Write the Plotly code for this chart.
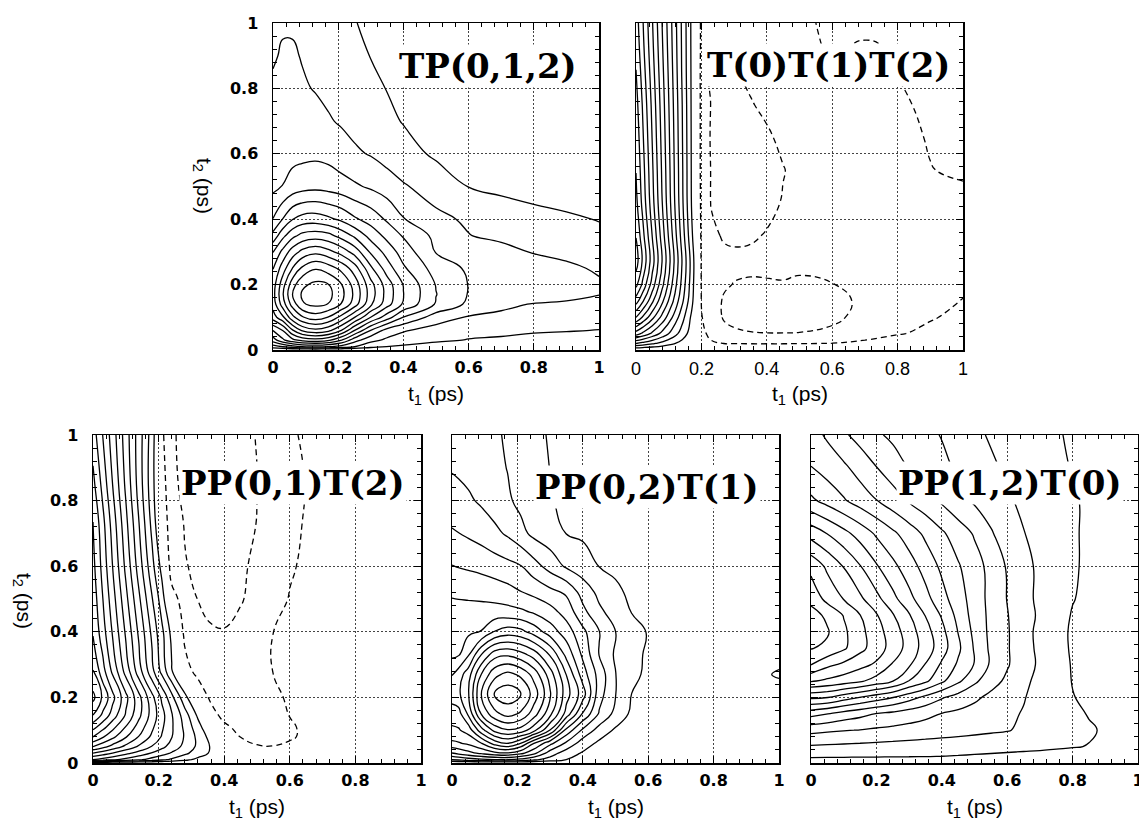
import plotly.graph_objects as go

W, H = 1139, 823

# ---------------- Panel 1 : TP(0,1,2) ----------------
P1_T1 = [0, .03, .06, .09, .13, .17, .21, .25, .3, .35, .4, .5, .6, .7, .8, .9, 1.0]
P1_T2 = [0, .01, .03, .06, .1, .14, .17, .2, .25, .3, .35, .4, .5, .6, .7, .8, .9, 1.0]
P1_Z = [
    [0] * 17,
    [1.5, 2.0, 2.6, 3.02, 3.2, 2.98, 2.6, 2.03, 1.3, 0.98, 0.85, 0.5, 0.35, 0.3, 0.25, 0.2, 0.2],
    [3.5, 4.8, 5.7, 6.3, 6.6, 6.2, 5.03, 3.4, 2.3, 1.8, 1.5, 1.2, 0.95, 0.85, 0.75, 0.65, 0.55],
    [5.03, 6.03, 7.9, 9.2, 9.75, 9.3, 7.97, 6.03, 3.97, 2.6, 2.1, 1.6, 1.33, 1.25, 1.1, 1.05, 0.98],
    [7.5, 8.8, 10.7, 11.9, 12.5, 11.95, 10.65, 9.03, 6.97, 5.45, 3.97, 2.5, 1.9, 1.8, 1.6, 1.5, 1.36],
    [8.4, 10.5, 12.45, 13.9, 14.25, 13.97, 12.95, 11.5, 9.2, 7.4, 5.85, 3.9, 2.8, 2.2, 1.95, 1.85, 1.73],
    [8.6, 10.9, 13.05, 14.15, 14.6, 14.3, 13.3, 11.8, 9.5, 7.6, 6.03, 4.03, 2.95, 2.7, 2.5, 2.3, 2.02],
    [8.5, 10.6, 12.6, 13.8, 14.25, 14.03, 13.05, 11.6, 9.35, 7.5, 5.95, 3.95, 2.97, 2.75, 2.55, 2.35, 2.1],
    [7.97, 9.5, 11.03, 12.2, 12.9, 12.5, 11.7, 10.5, 8.2, 6.5, 5.15, 3.55, 2.85, 2.5, 2.3, 2.15, 1.9],
    [6.97, 8.3, 9.5, 10.3, 10.75, 10.3, 9.6, 8.6, 6.85, 5.6, 4.55, 2.95, 2.7, 2.35, 1.95, 1.8, 1.65],
    [5.3, 6.7, 7.7, 8.3, 8.5, 8.3, 7.6, 6.8, 5.6, 4.7, 3.9, 2.75, 2.03, 1.75, 1.55, 1.35, 1.15],
    [4.03, 5.03, 5.97, 6.4, 6.5, 6.2, 5.8, 5.15, 4.6, 3.85, 3.05, 2.24, 1.85, 1.5, 1.25, 1.1, 0.97],
    [2.75, 3.03, 3.4, 3.6, 3.7, 3.6, 3.4, 3.15, 2.85, 2.5, 2.1, 1.55, 0.98, 0.8, 0.7, 0.65, 0.6],
    [2.5, 2.6, 2.7, 2.75, 2.8, 2.7, 2.4, 2.15, 1.93, 1.6, 1.35, 0.85, 0.7, 0.6, 0.55, 0.5, 0.5],
    [2.35, 2.45, 2.45, 2.4, 2.3, 2.08, 1.9, 1.7, 1.5, 1.2, 0.95, 0.7, 0.55, 0.5, 0.45, 0.42, 0.4],
    [2.15, 2.2, 2.2, 2.1, 1.95, 1.8, 1.65, 1.5, 1.25, 0.97, 0.8, 0.6, 0.5, 0.45, 0.4, 0.38, 0.35],
    [1.9, 2.1, 2.1, 1.95, 1.8, 1.6, 1.45, 1.3, 0.97, 0.8, 0.7, 0.55, 0.45, 0.4, 0.35, 0.33, 0.3],
    [1.7, 1.9, 1.9, 1.8, 1.6, 1.4, 1.2, 1.03, 0.85, 0.75, 0.65, 0.5, 0.4, 0.35, 0.32, 0.3, 0.28],
]

# ---------------- Panel 2 : T(0)T(1)T(2) ----------------
P2_T1 = [0, .02, .05, .08, .11, .14, .17, .2, .23, .27, .3, .35, .4, .45, .5, .6, .7, .8, .9, 1.0]
P2_T2 = [0, .02, .05, .1, .15, .2, .27, .35, .45, .55, .65, .75, .85, .93, 1.0]
P2_Z = [
    [0] * 20,
    [3.03, 2.67, 2.17, 1.67, 1.17, 0.67, 0.17, -0.5, -0.9, -1.01, -1.02, -1.05, -1.05, -1.05, -1.03, -0.98, -0.8, -0.6, -0.5, -0.4],
    [6.5, 5.8, 4.75, 3.69, 2.63, 1.58, 0.53, -0.8, -1.2, -1.7, -1.85, -1.95, -1.98, -1.98, -1.97, -1.8, -1.4, -1.05, -0.85, -0.7],
    [10.02, 8.92, 7.3, 5.68, 4.05, 2.43, 0.81, -0.95, -1.5, -2.1, -2.25, -2.35, -2.4, -2.4, -2.35, -2.2, -1.7, -1.3, -1.05, -0.85],
    [12.5, 11.19, 9.21, 7.24, 5.26, 3.29, 1.31, -1.03, -1.6, -2.1, -2.3, -2.4, -2.45, -2.45, -2.45, -2.3, -1.8, -1.4, -1.2, -0.98],
    [14.3, 12.8, 10.54, 8.28, 6.02, 3.76, 1.5, -1.05, -1.5, -1.9, -2.03, -2.1, -2.08, -2.05, -2.1, -2.02, -1.75, -1.55, -1.35, -1.1],
    [15.5, 13.87, 11.42, 8.97, 6.53, 4.08, 1.63, -1.1, -1.6, -1.75, -1.8, -1.8, -1.8, -1.8, -1.85, -1.8, -1.7, -1.6, -1.5, -1.45],
    [14.95, 13.38, 10.95, 8.52, 6.08, 3.65, 1.22, -1.15, -1.8, -2.1, -2.15, -2.1, -1.95, -1.8, -1.7, -1.6, -1.55, -1.5, -1.4, -1.35],
    [14.3, 12.73, 10.37, 8.02, 5.66, 3.3, 0.94, -1.2, -2.05, -2.35, -2.45, -2.4, -2.2, -1.95, -1.75, -1.6, -1.55, -1.45, -1.3, -1.2],
    [13.97, 12.46, 10.15, 7.84, 5.54, 3.23, 0.92, -1.25, -2.05, -2.4, -2.5, -2.5, -2.35, -2.03, -1.8, -1.6, -1.5, -1.4, -1.02, -0.9],
    [13.7, 12.19, 9.93, 7.67, 5.43, 3.16, 0.9, -1.25, -2.1, -2.35, -2.45, -2.4, -2.1, -1.85, -1.7, -1.5, -1.35, -1.2, -0.95, -0.85],
    [13.4, 11.93, 9.72, 7.5, 5.31, 3.1, 0.88, -1.25, -2.05, -2.25, -2.3, -2.05, -1.85, -1.7, -1.55, -1.3, -1.25, -1.08, -0.9, -0.8],
    [13.03, 11.57, 9.43, 7.28, 5.15, 2.97, 0.86, -1.25, -2.03, -2.06, -2.02, -1.85, -1.7, -1.55, -1.3, -0.97, -1.1, -0.98, -0.85, -0.75],
    [12.7, 11.3, 9.21, 7.11, 5.03, 2.93, 0.84, -1.2, -1.7, -1.75, -1.7, -1.6, -1.5, -1.35, -1.15, -0.93, -1.05, -0.95, -0.8, -0.7],
    [12.5, 11.13, 9.06, 6.98, 4.95, 2.89, 0.83, -1.2, -1.5, -1.5, -1.45, -1.4, -1.3, -1.2, -1.1, -0.9, -0.85, -0.8, -0.7, -0.6],
]

# ---------------- Panel 3 : PP(0,1)T(2) ----------------
P3_T1 = [0, .03, .06, .1, .14, .18, .21, .24, .28, .32, .36, .4, .45, .5, .55, .6, .65, .7, .8, .9, 1.0]
P3_T2 = [0, .01, .03, .05, .08, .11, .145, .2, .28, .39, .5, .6, .73, .85, 1.0]
P3_Z = [
    [0] * 21,
    [4.97, 4.6, 4.2, 3.67, 3.13, 2.6, 2.2, 1.8, 1.27, 0.73, 0.2, -0.1, -0.2, -0.3, -0.3, -0.25, -0.2, -0.2, -0.15, -0.15, -0.1],
    [6.97, 6.49, 5.98, 5.29, 4.61, 3.93, 3.41, 2.9, 2.22, 1.54, 0.85, 0.17, -0.3, -0.55, -0.6, -0.55, -0.48, -0.42, -0.36, -0.32, -0.3],
    [9.03, 8.33, 7.65, 6.75, 5.85, 4.95, 4.28, 3.6, 2.7, 1.8, 0.9, 0.02, -0.6, -0.93, -0.97, -0.85, -0.7, -0.6, -0.5, -0.43, -0.4],
    [11.03, 10.13, 9.26, 8.1, 6.95, 5.79, 4.92, 4.05, 2.89, 1.74, 0.58, -0.4, -1.02, -1.3, -1.35, -1.1, -0.85, -0.7, -0.57, -0.48, -0.43],
    [12.4, 11.37, 10.33, 8.96, 7.58, 6.2, 5.17, 4.13, 2.76, 1.38, 0.02, -0.8, -1.3, -1.5, -1.45, -1.1, -0.85, -0.7, -0.57, -0.48, -0.43],
    [13.97, 12.76, 11.53, 9.88, 8.24, 6.59, 5.35, 4.12, 2.47, 0.82, -0.6, -1.3, -1.5, -1.5, -1.3, -0.98, -0.8, -0.68, -0.56, -0.48, -0.43],
    [15.3, 13.8, 12.3, 10.3, 8.3, 6.3, 4.8, 3.3, 1.3, -0.3, -1.2, -1.45, -1.5, -1.4, -1.15, -0.9, -0.75, -0.65, -0.55, -0.48, -0.43],
    [14.03, 12.38, 10.77, 8.62, 6.46, 4.31, 2.69, 1.08, -0.6, -1.3, -1.6, -1.7, -1.6, -1.35, -0.98, -0.8, -0.7, -0.62, -0.55, -0.48, -0.43],
    [12.97, 11.47, 9.94, 7.9, 5.86, 3.82, 2.29, 0.76, -1.2, -1.7, -1.93, -1.95, -1.8, -1.45, -0.98, -0.8, -0.7, -0.62, -0.55, -0.48, -0.43],
    [12.6, 11.01, 9.42, 7.3, 5.19, 3.07, 1.48, -0.6, -1.45, -2.02, -2.15, -2.2, -2.05, -1.8, -1.35, -0.95, -0.78, -0.68, -0.58, -0.5, -0.45],
    [12.3, 10.64, 8.98, 6.76, 4.54, 2.33, 0.66, -1.5, -1.95, -2.15, -2.25, -2.25, -2.12, -1.85, -1.45, -1.1, -0.85, -0.72, -0.6, -0.5, -0.45],
    [12.03, 10.3, 8.57, 6.29, 4.03, 1.71, -0.3, -1.55, -2.05, -2.3, -2.4, -2.4, -2.3, -1.98, -1.7, -1.3, -0.9, -0.75, -0.6, -0.5, -0.45],
    [11.3, 9.65, 7.98, 5.8, 3.58, 1.38, -0.5, -1.8, -2.2, -2.35, -2.4, -2.4, -2.3, -2.02, -1.7, -1.3, -0.97, -0.75, -0.6, -0.5, -0.45],
    [10.5, 8.97, 7.5, 5.5, 3.5, 1.5, -0.8, -1.9, -2.2, -2.3, -2.35, -2.3, -2.2, -1.97, -1.6, -1.15, -0.85, -0.7, -0.55, -0.45, -0.4],
]

# ---------------- Panel 4 : PP(0,2)T(1) ----------------
P4_T1 = [0, .02, .05, .09, .13, .17, .21, .25, .3, .35, .4, .45, .5, .55, .6, .7, .8, .9, 1.0]
P4_T2 = [0, .01, .03, .06, .1, .15, .21, .27, .33, .4, .46, .52, .6, .7, .8, .9, 1.0]
P4_Z = [
    [0] * 19,
    [2.03, 2.2, 2.5, 2.8, 2.97, 3.03, 2.7, 2.2, 1.6, 0.98, 0.6, 0.3, 0.2, 0.2, 0.15, 0.15, 0.1, 0.1, 0.1],
    [3.97, 4.3, 4.7, 5.2, 5.7, 5.9, 5.3, 4.3, 2.5, 1.5, 0.9, 0.6, 0.5, 0.4, 0.35, 0.3, 0.3, 0.3, 0.3],
    [5.8, 5.9, 6.2, 6.97, 8.4, 9.03, 7.97, 6.03, 4.3, 2.8, 1.5, 0.8, 0.6, 0.5, 0.45, 0.4, 0.35, 0.35, 0.35],
    [6.8, 6.9, 7.4, 9.6, 11.3, 11.9, 11.6, 10.4, 7.97, 4.7, 2.8, 1.6, 0.85, 0.6, 0.5, 0.45, 0.4, 0.4, 0.4],
    [7.5, 7.6, 9.2, 12.1, 13.7, 14.4, 13.85, 12.5, 10.3, 7.6, 4.9, 2.9, 1.7, 0.8, 0.6, 0.5, 0.45, 0.45, 0.5],
    [8.5, 8.8, 9.9, 13.1, 15.05, 15.6, 15.1, 13.6, 11.15, 8.4, 6.5, 3.4, 2.03, 0.98, 0.75, 0.55, 0.45, 0.45, 0.6],
    [7.97, 8.5, 9.55, 12.05, 13.7, 14.3, 13.8, 12.65, 10.5, 7.97, 5.5, 3.6, 2.03, 1.25, 0.8, 0.6, 0.5, 0.65, 1.1],
    [6.8, 6.9, 7.9, 10.03, 11.6, 11.85, 11.4, 10.6, 8.9, 6.7, 4.8, 2.97, 1.85, 1.3, 0.85, 0.6, 0.5, 0.55, 0.7],
    [6.6, 6.65, 6.8, 7.05, 8.05, 8.5, 8.3, 7.6, 6.5, 5.5, 4.25, 3.03, 2.03, 1.3, 0.95, 0.7, 0.6, 0.55, 0.5],
    [6.25, 6.28, 6.3, 6.35, 6.4, 6.35, 6.2, 5.9, 5.4, 4.6, 3.3, 2.2, 1.6, 0.97, 0.8, 0.65, 0.55, 0.5, 0.45],
    [5.9, 5.85, 5.8, 5.7, 5.55, 5.35, 5.05, 4.75, 4.3, 3.85, 2.6, 1.75, 1.15, 0.85, 0.7, 0.6, 0.5, 0.45, 0.4],
    [5.03, 4.95, 4.85, 4.7, 4.5, 4.3, 4.05, 3.4, 2.6, 1.85, 1.45, 0.98, 0.85, 0.75, 0.65, 0.55, 0.5, 0.45, 0.4],
    [4.1, 4.02, 3.85, 3.6, 3.25, 2.85, 2.3, 1.75, 1.4, 0.98, 0.85, 0.75, 0.7, 0.65, 0.6, 0.5, 0.45, 0.42, 0.4],
    [3.5, 3.3, 3.15, 2.85, 2.5, 2.15, 1.75, 1.45, 1.05, 0.85, 0.75, 0.7, 0.65, 0.6, 0.55, 0.5, 0.45, 0.4, 0.38],
    [2.9, 2.85, 2.7, 2.5, 2.25, 1.97, 1.7, 1.4, 0.98, 0.85, 0.75, 0.7, 0.65, 0.6, 0.55, 0.5, 0.45, 0.4, 0.38],
    [2.6, 2.55, 2.45, 2.3, 2.12, 1.9, 1.65, 1.3, 0.9, 0.8, 0.72, 0.68, 0.63, 0.58, 0.54, 0.5, 0.45, 0.4, 0.38],
]

# ---------------- Panel 5 : PP(1,2)T(0) ----------------
P5_T1 = [0, .05, .1, .15, .2, .25, .3, .35, .4, .45, .5, .55, .6, .65, .7, .75, .8, .85, .9, 1.0]
P5_T2 = [0, .02, .05, .1, .15, .2, .25, .3, .35, .4, .45, .5, .6, .7, .8, .9, 1.0]
P5_Z = [
    [0] * 20,
    [1.2, 1.18, 1.15, 1.12, 1.1, 1.07, 1.05, 1.02, 0.99, 0.95, 0.9, 0.85, 0.8, 0.75, 0.7, 0.65, 0.6, 0.55, 0.5, 0.4],
    [1.9, 1.85, 1.8, 1.75, 1.7, 1.65, 1.6, 1.55, 1.5, 1.45, 1.4, 1.35, 1.3, 1.25, 1.2, 1.12, 1.05, 0.97, 0.8, 0.6],
    [3.3, 3.15, 3.05, 2.97, 2.85, 2.75, 2.65, 2.55, 2.45, 2.35, 2.25, 2.15, 2.05, 1.85, 1.7, 1.5, 1.3, 1.1, 0.9, 0.75],
    [5.35, 5.03, 4.6, 4.3, 3.97, 3.75, 3.5, 3.25, 2.97, 2.8, 2.6, 2.4, 2.15, 1.95, 1.7, 1.45, 1.2, 0.95, 0.8, 0.7],
    [8.2, 8.03, 7.5, 6.97, 6.5, 6.03, 5.4, 4.75, 4.1, 3.6, 3.2, 2.75, 2.4, 2.05, 1.7, 1.35, 1.03, 0.85, 0.75, 0.65],
    [11.1, 10.8, 10.5, 10.15, 9.6, 9.03, 7.97, 7.2, 6.2, 5.2, 4.2, 3.4, 2.8, 2.2, 1.75, 1.35, 0.97, 0.8, 0.7, 0.6],
    [13.03, 12.25, 11.8, 11.3, 10.85, 9.9, 9.15, 7.95, 6.85, 5.85, 4.95, 3.85, 3.1, 2.4, 1.85, 1.3, 0.95, 0.8, 0.7, 0.6],
    [14.05, 13.8, 13.15, 12.3, 11.5, 10.6, 9.6, 8.55, 7.45, 6.2, 4.9, 3.8, 3.1, 2.35, 1.8, 1.3, 0.9, 0.75, 0.65, 0.55],
    [14.6, 14.1, 13.2, 12.3, 11.4, 10.5, 9.5, 8.4, 7.3, 5.97, 4.75, 3.75, 3.1, 2.35, 1.75, 1.25, 0.9, 0.75, 0.65, 0.55],
    [14.4, 13.8, 12.95, 12.03, 11.1, 10.1, 9.1, 7.97, 6.9, 5.7, 4.6, 3.75, 3.05, 2.4, 1.85, 1.3, 0.95, 0.8, 0.7, 0.6],
    [13.7, 12.7, 11.97, 11.2, 10.3, 9.3, 8.3, 7.35, 6.35, 5.45, 4.55, 3.7, 2.97, 2.3, 1.8, 1.4, 1.03, 0.85, 0.75, 0.65],
    [12.7, 11.8, 10.95, 10.05, 9.1, 8.25, 7.45, 6.6, 5.8, 5.1, 4.4, 3.7, 2.9, 2.3, 1.8, 1.45, 1.1, 0.85, 0.75, 0.65],
    [10.6, 9.97, 9.3, 8.6, 7.85, 7.2, 6.5, 5.8, 5.15, 4.5, 3.9, 3.1, 2.5, 2.03, 1.7, 1.4, 1.1, 0.85, 0.75, 0.65],
    [8.2, 7.65, 7.1, 6.55, 6.03, 5.45, 4.9, 4.4, 3.85, 3.3, 2.85, 2.5, 2.1, 1.85, 1.6, 1.35, 1.1, 0.85, 0.75, 0.65],
    [7.03, 6.6, 6.2, 5.6, 5.03, 4.5, 3.97, 3.6, 3.25, 2.85, 2.5, 2.15, 1.85, 1.65, 1.4, 1.2, 0.95, 0.8, 0.7, 0.6],
    [6.4, 5.85, 5.15, 4.65, 4.15, 3.8, 3.5, 3.25, 2.95, 2.55, 2.2, 1.9, 1.7, 1.5, 1.3, 1.07, 0.9, 0.8, 0.7, 0.6],
]

LABELS = ["TP(0,1,2)", "T(0)T(1)T(2)", "PP(0,1)T(2)", "PP(0,2)T(1)", "PP(1,2)T(0)"]

for xs, ys, zs in [(P1_T1, P1_T2, P1_Z), (P2_T1, P2_T2, P2_Z), (P3_T1, P3_T2, P3_Z),
                   (P4_T1, P4_T2, P4_Z), (P5_T1, P5_T2, P5_Z)]:
    assert len(zs) == len(ys), (len(zs), len(ys))
    for r in zs:
        assert len(r) == len(xs), (len(r), len(xs))

# ---------------- layout geometry (pixels) ----------------
BOXES = [
    (273, 599, 23, 350),
    (636, 963, 23, 350),
    (93, 421, 435, 763),
    (452, 779, 435, 763),
    (811, 1138, 435, 763),
]
LABEL_POS = [(488, 66), (828, 65), (293, 483), (647, 487), (1010, 483)]

fig = go.Figure()

def add_contour(i, xs, ys, zs, start, end, dash):
    sfx = "" if i == 0 else str(i + 1)
    fig.add_trace(go.Contour(
        x=xs, y=ys, z=zs, xaxis="x" + sfx, yaxis="y" + sfx,
        contours=dict(coloring="lines", start=start, end=end, size=1, showlabels=False),
        line=dict(width=1.3, dash=dash, smoothing=1.3),
        colorscale=[[0, "black"], [1, "black"]], showscale=False, hoverinfo="skip",
    ))

add_contour(0, P1_T1, P1_T2, P1_Z, 1, 14, "solid")
add_contour(1, P2_T1, P2_T2, P2_Z, 1, 15, "solid")
add_contour(1, P2_T1, P2_T2, P2_Z, -2, -1, "6px,4px")
add_contour(2, P3_T1, P3_T2, P3_Z, 1, 15, "solid")
add_contour(2, P3_T1, P3_T2, P3_Z, -2, -1, "6px,4px")
add_contour(3, P4_T1, P4_T2, P4_Z, 1, 15, "solid")
add_contour(4, P5_T1, P5_T2, P5_Z, 1, 14, "solid")

bold_font = dict(family="DejaVu Sans", size=16, color="black", weight="bold")
plain_font = dict(family="Liberation Sans", size=18, color="black")

layout = dict(
    template="none",
    width=W, height=H, margin=dict(l=0, r=0, t=0, b=0, pad=0), autosize=False,
    paper_bgcolor="white", plot_bgcolor="white", showlegend=False,
    font=dict(family="Liberation Sans", color="black"),
)
annotations = []
for i, (x0, x1, y0, y1) in enumerate(BOXES):
    sfx = "" if i == 0 else str(i + 1)
    common = dict(
        range=[0, 1], showline=True, linecolor="black", linewidth=1.5, mirror="allticks",
        ticks="inside", ticklen=7, tickwidth=1, tickcolor="black",
        tickmode="linear", tick0=0, dtick=0.2, automargin=False,
        ticklabeloverflow="allow",
        showgrid=True, gridcolor="#444", griddash="2px,2px", gridwidth=1,
        zeroline=False, fixedrange=True,
        minor=dict(ticks="inside", ticklen=4, tickwidth=1, tickcolor="black",
                   tickmode="linear", tick0=0, dtick=0.04, showgrid=False),
    )
    fx = plain_font if i == 1 else bold_font
    layout["xaxis" + sfx] = dict(common, domain=[x0 / W, x1 / W], anchor="y" + sfx,
                                 tickfont=fx, ticklabelstandoff=2)
    layout["yaxis" + sfx] = dict(common, domain=[1 - y1 / H, 1 - y0 / H], anchor="x" + sfx,
                                 tickfont=bold_font, showticklabels=(i in (0, 2)),
                                 ticklabelstandoff=10)
    annotations.append(dict(
        text="t<sub>1</sub> (ps)", xref="paper", yref="paper",
        x=((x0 + x1) / 2) / W, y=1 - (y1 + 45) / H, showarrow=False,
        font=dict(family="Liberation Sans", size=21, color="black"),
        xanchor="center", yanchor="middle"))
    lx, ly = LABEL_POS[i]
    annotations.append(dict(
        text=LABELS[i], xref="paper", yref="paper", x=lx / W, y=1 - ly / H,
        showarrow=False, bgcolor="white", borderpad=1,
        font=dict(family="DejaVu Serif", size=34, color="black", weight="bold"),
        xanchor="center", yanchor="middle"))

for (xc, yc) in [(203, 186), (23, 601)]:
    annotations.append(dict(
        text="t<sub>2</sub> (ps)", xref="paper", yref="paper", x=xc / W, y=1 - yc / H,
        showarrow=False, textangle=90,
        font=dict(family="Liberation Sans", size=21, color="black"),
        xanchor="center", yanchor="middle"))

layout["annotations"] = annotations
fig.update_layout(**layout)

PIN_PAGE = (
    "var gd=document.getElementById('{plot_id}');"
    "var de=document.documentElement, b=document.body;"
    "de.style.margin='0';de.style.padding='0';de.style.overflow='hidden';"
    "b.style.margin='0';b.style.padding='0';b.style.overflow='hidden';"
    "gd.style.position='fixed';gd.style.left='0px';gd.style.top='0px';"
)
fig.write_html("out.html", config={"displayModeBar": False, "staticPlot": True},
               post_script=PIN_PAGE)
